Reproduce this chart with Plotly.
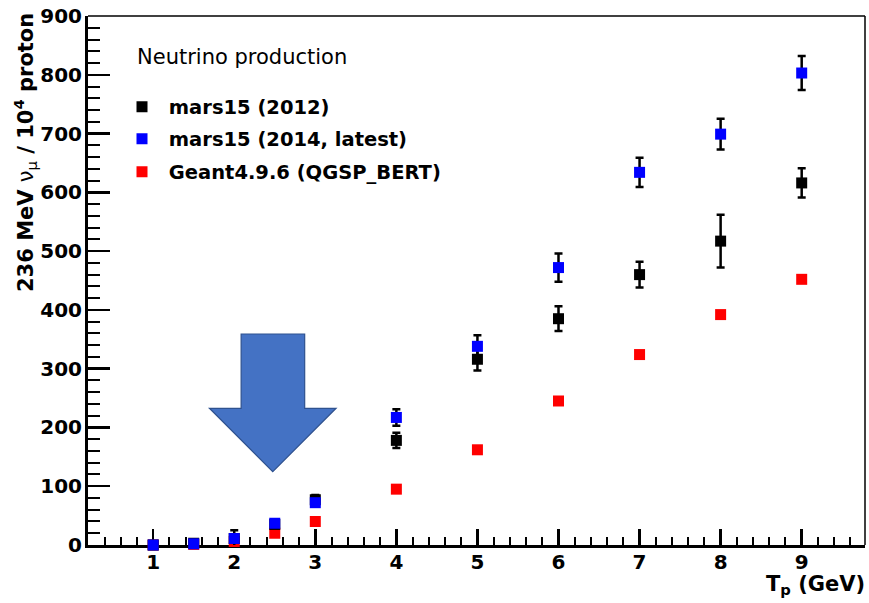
import plotly.graph_objects as go

# ---- data ----
tp = [1, 1.5, 2, 2.5, 3, 4, 5, 6, 7, 8, 9]
mars2012 = [0, 3, 11, 35, 77, 178, 316, 385, 460, 517, 616]
mars2012_err = [1, 2, 14, 5, 8, 13, 19, 21, 22, 45, 25]
mars2014 = [0, 2, 11, 37, 72, 217, 338, 472, 634, 699, 803]
mars2014_err = [1, 2, 4, 5, 6, 14, 19, 24, 25, 26, 29]
geant = [0, 1, 6, 20, 40, 95, 162, 245, 324, 392, 452]

names = ["mars15 (2012)", "mars15 (2014, latest)", "Geant4.9.6 (QGSP_BERT)"]
colors = ["#000000", "#0000ff", "#ff0000"]

# arrow decoration (data coordinates)
arrow_x = [2.085, 2.869, 2.869, 3.256, 2.475, 1.694, 2.085]
arrow_y = [359, 359, 232.6, 232.6, 124.7, 232.6, 232.6]

FONT = "DejaVu Sans, Arial, sans-serif"
NB = "\u00a0"

fig = go.Figure()

err_style = dict(type="data", color="black", thickness=2.5, width=4, visible=True)

fig.add_trace(go.Scatter(
    x=tp, y=geant, mode="markers", name=NB + names[2],
    marker=dict(symbol="square", size=11, color=colors[2], line=dict(width=0)),
    cliponaxis=False, legend="legend3"))

fig.add_trace(go.Scatter(
    x=tp, y=mars2012, mode="markers", name=NB + names[0],
    marker=dict(symbol="square", size=11, color=colors[0], line=dict(width=0)),
    error_y=dict(array=mars2012_err, **err_style),
    cliponaxis=False, legend="legend"))

fig.add_trace(go.Scatter(
    x=tp, y=mars2014, mode="markers", name=NB + names[1],
    marker=dict(symbol="square", size=11, color=colors[1], line=dict(width=0)),
    error_y=dict(array=mars2014_err, **err_style),
    cliponaxis=False, legend="legend2"))

path = "M " + " L ".join(f"{x},{y}" for x, y in zip(arrow_x, arrow_y)) + " Z"

L, R, T, B = 88, 4, 16, 58
W, H = 869, 603
pw, ph = W - L - R, H - T - B

def px2x(px):
    return (px - L) / pw

def py2y(py):
    return (H - B - py) / ph

leg_font = dict(family=FONT, size=19.5, color="black", weight="bold")
legend_common = dict(xanchor="left", yanchor="middle", bgcolor="rgba(0,0,0,0)",
                     borderwidth=0, font=leg_font)

fig.update_layout(
    width=W, height=H,
    margin=dict(l=L, r=R, t=T, b=B),
    paper_bgcolor="white", plot_bgcolor="white",
    showlegend=True,
    hovermode=False,
    legend=dict(x=px2x(122), y=py2y(107), **legend_common),
    legend2=dict(x=px2x(122), y=py2y(139), **legend_common),
    legend3=dict(x=px2x(122), y=py2y(172), **legend_common),
    xaxis=dict(
        range=[0.196, 9.781], showgrid=False, zeroline=False,
        showline=True, linewidth=3, linecolor="black", layer="below traces",
        ticks="inside", ticklen=16, tickwidth=2.5, tickcolor="black",
        tick0=0, dtick=1, ticklabelstandoff=-3,
        tickfont=dict(family=FONT, size=20, color="black", weight="bold"),
        minor=dict(ticks="inside", ticklen=8, tickwidth=2, tickcolor="black", dtick=0.2, tick0=0),
    ),
    yaxis=dict(
        range=[0, 900], showgrid=False, zeroline=False,
        showline=True, linewidth=3, linecolor="black", layer="below traces",
        ticks="inside", ticklen=22, tickwidth=2.5, tickcolor="black",
        tick0=0, dtick=100, ticklabelstandoff=-1,
        tickfont=dict(family=FONT, size=20, color="black", weight="bold"),
        minor=dict(ticks="inside", ticklen=12, tickwidth=2, tickcolor="black", dtick=20, tick0=0),
    ),
    shapes=[
        dict(type="line", xref="paper", yref="paper", x0=0, x1=1, y0=1, y1=1,
             line=dict(color="black", width=1.5)),
        dict(type="line", xref="paper", yref="paper", x0=1, x1=1, y0=0, y1=1,
             line=dict(color="black", width=1.5)),
        dict(type="path", xref="x", yref="y", path=path,
             fillcolor="#4472C4", line=dict(color="#2F528F", width=1.2), layer="above"),
    ],
    annotations=[
        dict(text="Neutrino production", xref="paper", yref="paper",
             x=px2x(134.5), y=py2y(57), xanchor="left", yanchor="middle", showarrow=False,
             font=dict(family=FONT, size=21, color="black")),
        dict(text="<b>236 MeV </b>ν<sub>μ</sub><b> / 10<sup>4</sup> proton</b>",
             xref="paper", yref="paper", x=px2x(25), y=py2y(153),
             xanchor="center", yanchor="middle", textangle=-90, showarrow=False,
             font=dict(family=FONT, size=21, color="black")),
        dict(text="<b>T<sub>p</sub> (GeV)</b>", xref="paper", yref="paper",
             x=px2x(866.7), y=py2y(585), xanchor="right", yanchor="middle", showarrow=False,
             font=dict(family=FONT, size=21, color="black")),
    ],
)

fig.write_html("out.html", config={"displayModeBar": False, "staticPlot": True},
               post_script="document.body.style.margin='0';")
